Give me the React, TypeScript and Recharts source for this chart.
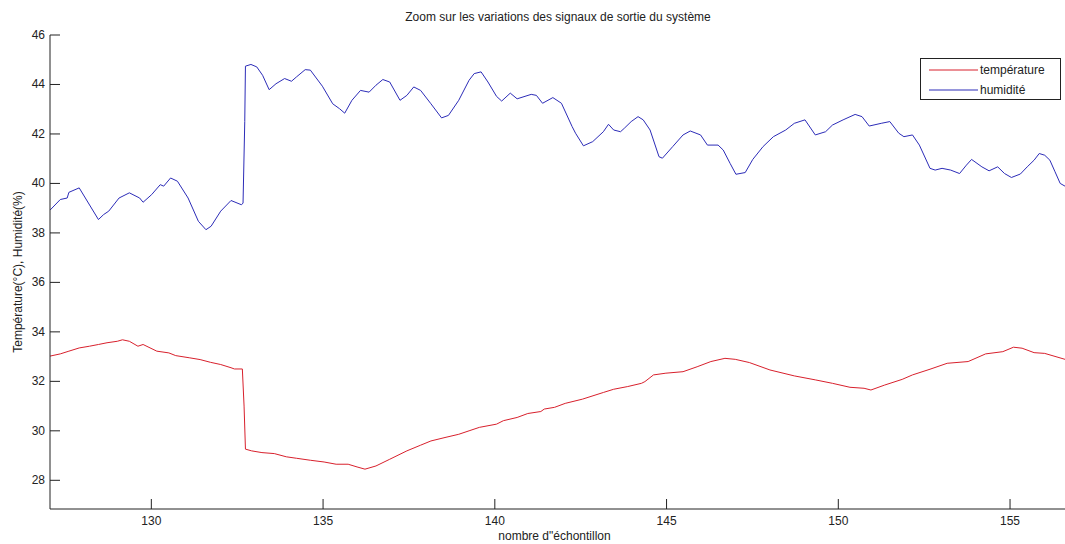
import React from "react";
import { LineChart, Line, XAxis, YAxis, Label } from "recharts";

const FONT = '"Liberation Sans", Arial, sans-serif';
const RED = "#d8202c";
const BLUE = "#2c2cb8";
const INK = "#222";

const xTicks = [130, 135, 140, 145, 150, 155];
const yTicks = [28, 30, 32, 34, 36, 38, 40, 42, 44, 46];

// humidité (%)
const humX = [
  127.05, 127.35, 127.55, 127.6, 127.9, 128.46, 128.61, 128.76, 129.06, 129.36,
  129.66, 129.76, 130.01, 130.26, 130.36, 130.56, 130.76, 131.07, 131.37, 131.59,
  131.74, 132.02, 132.32, 132.62, 132.67, 132.72, 132.74, 132.9, 133.07, 133.24,
  133.43, 133.63, 133.88, 134.08, 134.23, 134.48, 134.63, 134.98, 135.28, 135.48,
  135.63, 135.84, 136.09, 136.34, 136.54, 136.74, 136.94, 137.24, 137.44, 137.64,
  137.84, 138.14, 138.45, 138.65, 138.95, 139.25, 139.4, 139.6, 139.8, 140.05,
  140.2, 140.45, 140.65, 141.06, 141.21, 141.39, 141.69, 141.94, 142.25, 142.35,
  142.58, 142.85, 143.16, 143.31, 143.46, 143.66, 143.77, 143.97, 144.17, 144.32,
  144.52, 144.78, 144.88, 145.18, 145.48, 145.69, 145.99, 146.19, 146.5, 146.65,
  146.85, 147.02, 147.29, 147.51, 147.81, 148.11, 148.47, 148.72, 149.03, 149.33,
  149.63, 149.83, 150.14, 150.49, 150.69, 150.9, 151.25, 151.5, 151.76, 151.91,
  152.16, 152.36, 152.67, 152.82, 153.02, 153.27, 153.53, 153.73, 153.88, 154.18,
  154.39, 154.64, 154.84, 155.04, 155.3, 155.5, 155.7, 155.85, 156.01, 156.16,
  156.31, 156.46, 156.6,
];
const humY = [
  38.92, 39.35, 39.41, 39.64, 39.82, 38.54, 38.74, 38.88, 39.41, 39.62,
  39.41, 39.24, 39.55, 39.95, 39.89, 40.22, 40.09, 39.41, 38.47, 38.13,
  38.27, 38.88, 39.31, 39.14, 39.2, 42.5, 44.74, 44.81, 44.71, 44.37,
  43.79, 44.03, 44.24, 44.13, 44.31, 44.6, 44.58, 43.93, 43.22, 43.02,
  42.84, 43.36, 43.76, 43.69, 43.97, 44.2, 44.1, 43.36, 43.56, 43.9,
  43.76, 43.22, 42.65, 42.75, 43.36, 44.17, 44.44, 44.51, 44.1, 43.52,
  43.33, 43.65, 43.42, 43.6, 43.56, 43.24, 43.47, 43.24, 42.3, 42.03,
  41.52, 41.69, 42.09, 42.39, 42.16, 42.09, 42.23, 42.5, 42.7, 42.57,
  42.16, 41.08, 41.02, 41.49, 41.96, 42.12, 41.96, 41.55, 41.55, 41.35,
  40.81, 40.37, 40.44, 40.97, 41.49, 41.89, 42.16, 42.43, 42.57, 41.96,
  42.09, 42.36, 42.57, 42.79, 42.7, 42.32, 42.43, 42.5, 42.03, 41.89,
  41.96, 41.55, 40.61, 40.54, 40.61, 40.54, 40.4, 40.74, 40.97, 40.67,
  40.51, 40.67, 40.4, 40.24, 40.38, 40.67, 40.94, 41.21, 41.14, 40.94,
  40.47, 40.0, 39.89,
];

// température (°C)
const tempX = [
  127.05, 127.35, 127.6, 127.9, 128.2, 128.46, 128.71, 129.01, 129.16, 129.36,
  129.61, 129.76, 130.16, 130.51, 130.71, 131.12, 131.42, 131.72, 132.02, 132.32,
  132.42, 132.65, 132.7, 132.74, 132.92, 133.22, 133.58, 133.93, 134.23, 134.63,
  135.03, 135.38, 135.73, 135.99, 136.22, 136.54, 136.94, 137.44, 137.84, 138.14,
  138.55, 138.95, 139.25, 139.55, 140.05, 140.25, 140.65, 140.96, 141.34, 141.44,
  141.74, 142.05, 142.55, 143.16, 143.46, 143.87, 144.27, 144.37, 144.62, 144.98,
  145.48, 145.89, 146.29, 146.7, 147.0, 147.41, 148.01, 148.72, 149.33, 149.83,
  150.34, 150.75, 150.95, 151.35, 151.86, 152.16, 152.67, 153.17, 153.78, 154.29,
  154.79, 155.1, 155.35, 155.7, 156.01, 156.6,
];
const tempY = [
  33.02, 33.11, 33.22, 33.35, 33.42, 33.49, 33.56, 33.62, 33.68, 33.62,
  33.42, 33.49, 33.22, 33.15, 33.04, 32.95, 32.88, 32.77, 32.68, 32.55,
  32.5, 32.5, 31.0, 29.26, 29.19, 29.12, 29.08, 28.95, 28.89, 28.81,
  28.74, 28.65, 28.65, 28.54, 28.45, 28.58, 28.85, 29.19, 29.42, 29.59,
  29.73, 29.86, 30.0, 30.14, 30.27, 30.41, 30.54, 30.7, 30.78, 30.88,
  30.95, 31.11, 31.28, 31.55, 31.68, 31.79, 31.92, 31.99, 32.26, 32.33,
  32.39, 32.59, 32.8, 32.93, 32.89, 32.76, 32.46, 32.22, 32.06, 31.92,
  31.76, 31.72, 31.65, 31.85, 32.08, 32.26, 32.49, 32.73, 32.8, 33.11,
  33.2, 33.38, 33.34, 33.16, 33.13, 32.89,
];

const humData = humX.map((x, i) => ({ x, y: humY[i] }));
const tempData = tempX.map((x, i) => ({ x, y: tempY[i] }));

const legendItems = [
  { name: "température", color: RED },
  { name: "humidité", color: BLUE },
];

// MATLAB style ticks: drawn inward from the axis
function XTick({ x, y, payload }: any) {
  return (
    <g>
      <line x1={x} y1={y} x2={x} y2={y - 10} stroke={INK} />
      <text x={x} y={y + 16} textAnchor="middle" fontSize={12} fill={INK} fontFamily={FONT}>
        {payload.value}
      </text>
    </g>
  );
}

function YTick({ x, y, payload }: any) {
  return (
    <g>
      <line x1={x + 5} y1={y} x2={x + 15} y2={y} stroke={INK} />
      <text x={x} y={y + 4} textAnchor="end" fontSize={12} fill={INK} fontFamily={FONT}>
        {payload.value}
      </text>
    </g>
  );
}

function LegendBox() {
  return (
    <div
      style={{
        position: "absolute",
        left: 920,
        top: 58,
        width: 141,
        height: 42,
        border: `1px solid ${INK}`,
        background: "#fff",
        boxSizing: "border-box",
        fontFamily: FONT,
        fontSize: 12,
        color: INK,
      }}
    >
      {legendItems.map((it, i) => (
        <div
          key={it.name}
          style={{ position: "absolute", left: 8, top: 3 + i * 20, height: 16, display: "flex", alignItems: "center" }}
        >
          <svg width={49} height={2} style={{ display: "block" }}>
            <line x1={0} y1={1} x2={49} y2={1} stroke={it.color} />
          </svg>
          <span style={{ marginLeft: 2, lineHeight: "16px" }}>{it.name}</span>
        </div>
      ))}
    </div>
  );
}

export default function App() {
  return (
    <div style={{ position: "absolute", left: 0, top: 0, width: 1065, height: 544, background: "#fff" }}>
      <div
        style={{
          position: "absolute",
          left: 300,
          top: 10,
          width: 516,
          textAlign: "center",
          fontFamily: FONT,
          fontSize: 12,
          lineHeight: "14px",
          color: INK,
        }}
      >
        Zoom sur les variations des signaux de sortie du système
      </div>
      <LineChart width={1065} height={544} margin={{ top: 35, right: 0, bottom: 0, left: 0 }}>
        <XAxis
          dataKey="x"
          type="number"
          domain={[127.05, 156.6]}
          allowDataOverflow
          ticks={xTicks}
          height={35}
          tickSize={0}
          tickMargin={0}
          tickLine={false}
          axisLine={{ stroke: INK }}
          tick={<XTick />}
        >
          <Label
            content={({ viewBox }: any) => (
              <text
                x={viewBox.x + viewBox.width / 2 - 3}
                y={viewBox.y + 31}
                textAnchor="middle"
                fontSize={12}
                fill={INK}
                fontFamily={FONT}
              >
                nombre d"échontillon
              </text>
            )}
          />
        </XAxis>
        <YAxis
          type="number"
          domain={[26.84, 46]}
          allowDataOverflow
          ticks={yTicks}
          width={50}
          tickSize={0}
          tickMargin={5}
          tickLine={false}
          axisLine={{ stroke: INK }}
          tick={<YTick />}
        >
          <Label
            content={({ viewBox }: any) => {
              const cx = 22;
              const cy = viewBox.y + viewBox.height / 2;
              return (
                <text
                  x={cx}
                  y={cy}
                  transform={`rotate(-90 ${cx} ${cy})`}
                  textAnchor="middle"
                  fontSize={12}
                  fill={INK}
                  fontFamily={FONT}
                >
                  Température(°C), Humidité(%)
                </text>
              );
            }}
          />
        </YAxis>
        <Line
          data={tempData}
          dataKey="y"
          name="température"
          type="linear"
          stroke={RED}
          strokeWidth={1}
          dot={false}
          activeDot={false}
          isAnimationActive={false}
        />
        <Line
          data={humData}
          dataKey="y"
          name="humidité"
          type="linear"
          stroke={BLUE}
          strokeWidth={1}
          dot={false}
          activeDot={false}
          isAnimationActive={false}
        />
      </LineChart>
      <LegendBox />
    </div>
  );
}
